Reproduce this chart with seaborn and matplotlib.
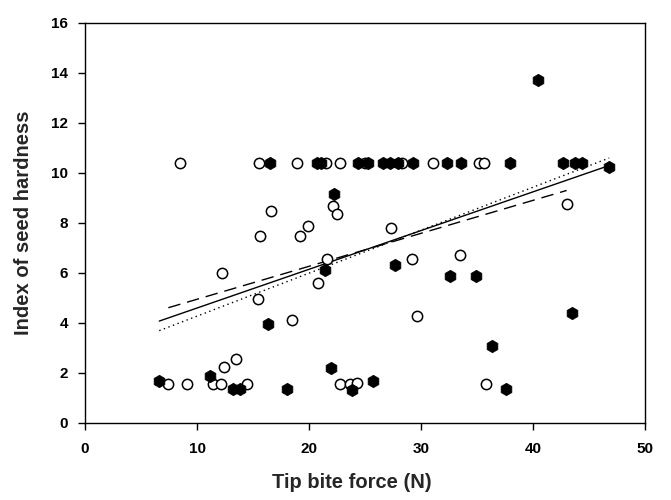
import numpy as np
import pandas as pd
import seaborn as sns
import matplotlib
matplotlib.use("Agg")
import matplotlib.pyplot as plt

# open circles
open_x = [7.44, 9.13, 11.4, 12.1, 12.4, 13.45, 14.46, 22.77, 23.66, 24.3, 35.8,
          16.6, 15.6, 12.23, 15.45, 18.5, 19.2, 19.9, 20.8, 21.6, 22.1, 22.5,
          27.35, 29.2, 29.6, 33.5, 43.0,
          8.48, 15.5, 18.9, 21.5, 22.8, 25.0, 28.3, 31.1, 35.2, 35.65]
open_y = [1.55, 1.55, 1.55, 1.55, 2.25, 2.55, 1.55, 1.56, 1.56, 1.59, 1.56,
          8.48, 7.49, 5.99, 4.95, 4.12, 7.48, 7.89, 5.59, 6.55, 8.68, 8.37,
          7.81, 6.55, 4.29, 6.72, 8.76,
          10.41, 10.41, 10.41, 10.41, 10.41, 10.41, 10.41, 10.41, 10.41, 10.41]

# filled hexagons
filled_x = [6.63, 11.16, 13.2, 13.84, 18.0, 21.96, 23.8, 25.7, 37.6,
            22.2, 21.4, 27.7, 32.6, 34.9, 16.3, 36.3, 43.5, 40.4,
            16.5, 20.7, 21.1, 24.4, 25.3, 26.6, 27.2, 27.9, 29.3, 32.3,
            33.6, 37.9, 42.7, 43.75, 44.4, 46.8]
filled_y = [1.68, 1.88, 1.35, 1.35, 1.35, 2.21, 1.32, 1.68, 1.35,
            9.15, 6.12, 6.32, 5.9, 5.9, 3.96, 3.09, 4.39, 13.7,
            10.41, 10.41, 10.41, 10.41, 10.41, 10.41, 10.41, 10.41, 10.41, 10.41,
            10.41, 10.41, 10.41, 10.41, 10.41, 10.25]

# fitted lines: all points (solid), open (dashed), filled (dotted)
fit_names = ["all", "open", "filled"]
fit_intercept = [3.05, 3.63, 2.555]
fit_slope = [0.1549, 0.1319, 0.1719]

df_open = pd.DataFrame({"force": open_x, "hardness": open_y})
df_filled = pd.DataFrame({"force": filled_x, "hardness": filled_y})
df_all = pd.concat([df_open, df_filled], ignore_index=True)
groups = {"all": df_all, "open": df_open, "filled": df_filled}
styles = {"all": "-", "open": (0, (9, 5)), "filled": (0, (1, 2.5))}

rows = []
for name, b0, b1 in zip(fit_names, fit_intercept, fit_slope):
    d = groups[name]
    for xv in (d["force"].min(), d["force"].max()):
        rows.append({"fit": name, "force": xv, "hardness": b0 + b1 * xv})
df_fit = pd.DataFrame(rows)

sns.set_style("ticks")
plt.rcParams["font.family"] = ["Liberation Sans", "DejaVu Sans"]

fig = plt.figure(figsize=(6.71, 5.0), dpi=100)
ax = fig.add_axes([0.1267, 0.154, 0.8346, 0.8])

sns.scatterplot(data=df_open, x="force", y="hardness", ax=ax, marker="o",
                s=55, facecolor="white", edgecolor="black", linewidth=1.1, zorder=3)
sns.scatterplot(data=df_filled, x="force", y="hardness", ax=ax, marker="h",
                s=80, color="black", edgecolor="black", linewidth=0.5, zorder=4)

for name in fit_names:
    sns.lineplot(data=df_fit[df_fit["fit"] == name], x="force", y="hardness", ax=ax,
                 color="black", lw=1.0, ls=styles[name], zorder=2)

ax.set_xlim(0, 50)
ax.set_ylim(0, 16)
ax.set_xticks(range(0, 51, 10))
ax.set_yticks(range(0, 17, 2))
ax.set_xlabel("Tip bite force (N)", fontsize=14.5, fontweight="bold")
ax.set_ylabel("Index of seed hardness", fontsize=14.5, fontweight="bold")
ax.xaxis.set_label_coords(0.477, -0.125)
ax.yaxis.set_label_coords(-0.093, 0.5)
for lab in ax.get_xticklabels() + ax.get_yticklabels():
    lab.set_fontweight("bold")
    lab.set_fontsize(11)
ax.tick_params(direction="out", length=5, width=1, colors="black", pad=7)
ax.tick_params(axis="x", pad=9)
for sp in ax.spines.values():
    sp.set_color("black")
    sp.set_linewidth(1)

fig.savefig("out.png", dpi=100)
